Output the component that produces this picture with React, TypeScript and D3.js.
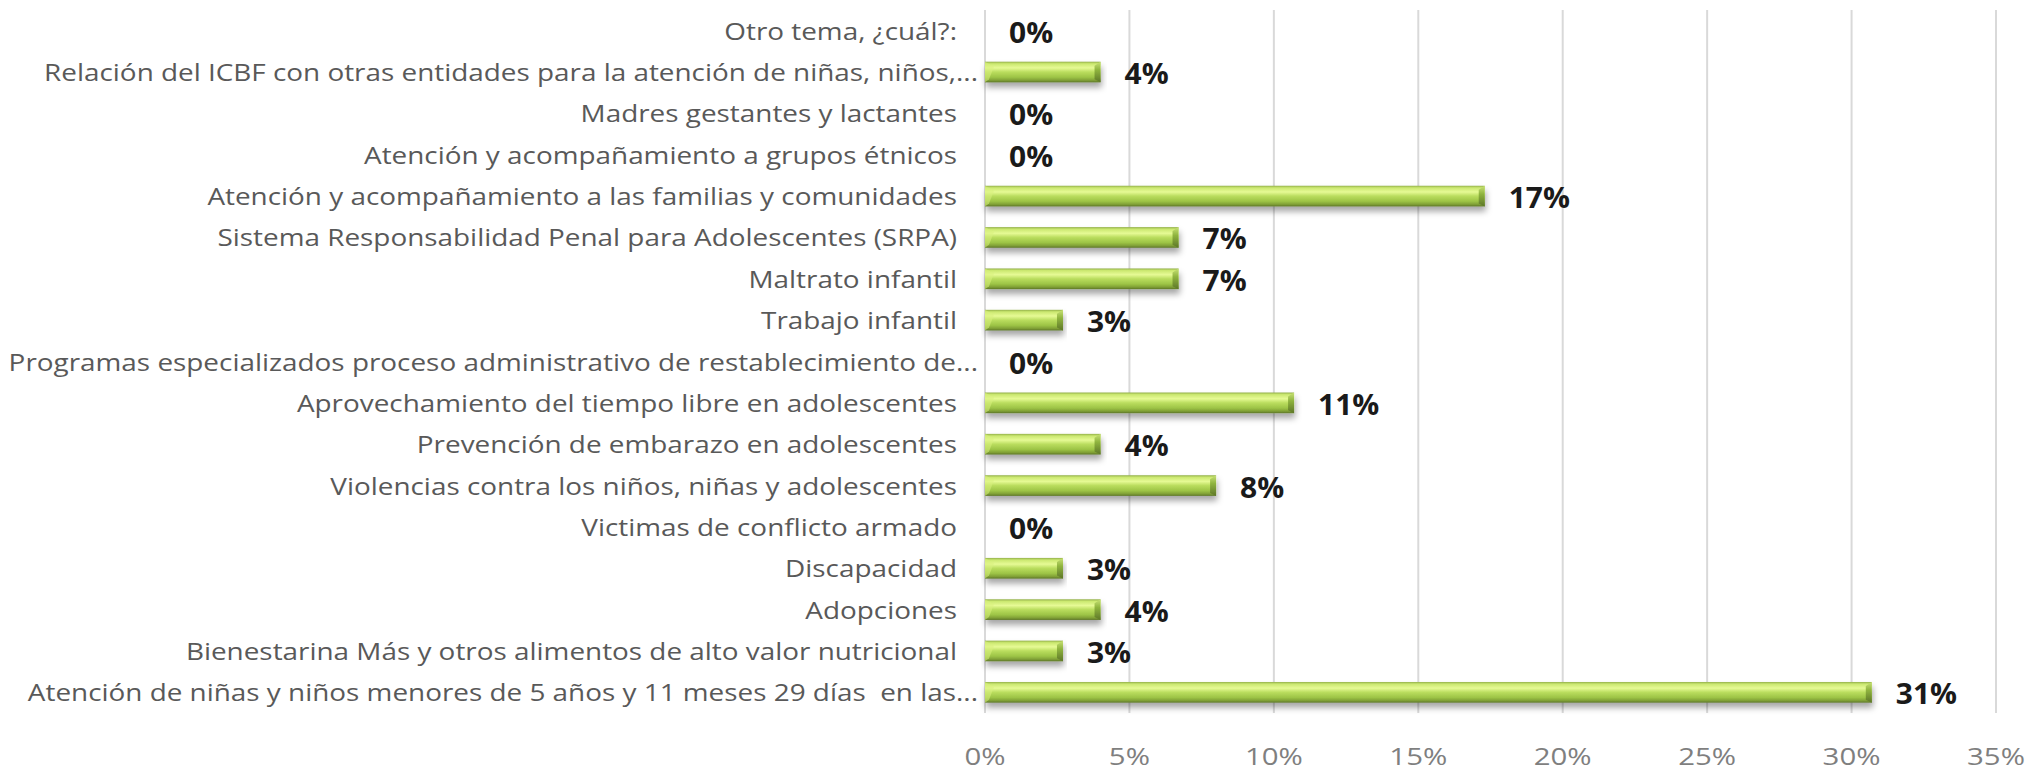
import React from 'react';
import * as d3 from 'd3';

const categories = [
  'Otro tema, ¿cuál?:',
  'Relación del ICBF con otras entidades para la atención de niñas, niños,...',
  'Madres gestantes y lactantes',
  'Atención y acompañamiento a grupos étnicos',
  'Atención y acompañamiento a las familias y comunidades',
  'Sistema Responsabilidad Penal para Adolescentes (SRPA)',
  'Maltrato infantil',
  'Trabajo infantil',
  'Programas especializados proceso administrativo de restablecimiento de...',
  'Aprovechamiento del tiempo libre en adolescentes',
  'Prevención de embarazo en adolescentes',
  'Violencias contra los niños, niñas y adolescentes',
  'Victimas de conflicto armado',
  'Discapacidad',
  'Adopciones',
  'Bienestarina Más y otros alimentos de alto valor nutricional',
  'Atención de niñas y niños menores de 5 años y 11 meses 29 días  en las...',
];

// percentages
const values = [0, 4.0, 0, 0, 17.3, 6.7, 6.7, 2.7, 0, 10.7, 4.0, 8.0, 0, 2.7, 4.0, 2.7, 30.7];

const xTicks = [0, 5, 10, 15, 20, 25, 30, 35];

const W = 2031;
const H = 772;
const M = { left: 985, right: 35, top: 10, bottom: 59 };

const FONT = "'Open Sans', 'Noto Sans', sans-serif";

let ctx: CanvasRenderingContext2D | null = null;
function measure(text: string, font: string): number {
  if (!ctx) ctx = document.createElement('canvas').getContext('2d');
  if (!ctx) return text.length * 10;
  ctx.font = font;
  return ctx.measureText(text).width;
}

const CAT_SIZE = 23;
const CAT_STRETCH = 1.212;
const TICK_SIZE = 23.5;
const TICK_STRETCH = 1.25;
const VAL_SIZE = 28;
const VAL_STRETCH = 1.07;

export default function App() {
  const x = d3.scaleLinear().domain([0, 35]).range([M.left, W - M.right]);
  const y = d3
    .scaleBand<string>()
    .domain(categories)
    .range([M.top, H - M.bottom])
    .paddingInner(0.5)
    .paddingOuter(0.25);
  const bw = y.bandwidth();
  const fmt = (v: number) => d3.format('.0f')(v) + '%';

  return (
    <svg
      width={W}
      height={H}
      style={{ position: 'absolute', left: 0, top: 0, background: '#fff' }}
    >
      <defs>
        <linearGradient id="barGrad" x1="0" y1="0" x2="0" y2="1">
          <stop offset="0" stopColor="#93b04a" />
          <stop offset="0.1" stopColor="#cbe870" />
          <stop offset="0.3" stopColor="#e6fa95" />
          <stop offset="0.5" stopColor="#badd5e" />
          <stop offset="0.75" stopColor="#9dc446" />
          <stop offset="0.9" stopColor="#80a036" />
          <stop offset="1" stopColor="#5d7628" />
        </linearGradient>
        <linearGradient id="capGrad" x1="0" y1="0" x2="0" y2="1">
          <stop offset="0" stopColor="#c9e277" />
          <stop offset="0.4" stopColor="#8fb43e" />
          <stop offset="1" stopColor="#5d7628" />
        </linearGradient>
        <filter id="shadow" x="-5%" y="-50%" width="110%" height="220%">
          <feDropShadow dx="1" dy="5" stdDeviation="3" floodColor="#000" floodOpacity="0.35" />
        </filter>
      </defs>

      {/* gridlines */}
      {xTicks.map((t) => (
        <line
          key={'g' + t}
          x1={x(t)}
          x2={x(t)}
          y1={M.top}
          y2={H - M.bottom}
          stroke="#d9d9d9"
          strokeWidth={2}
        />
      ))}

      {/* bars */}
      {categories.map((c, i) => {
        const v = values[i];
        if (v <= 0) return null;
        const x0 = x(0);
        const x1 = x(v);
        const y0 = y(c)!;
        const y1 = y0 + bw;
        const b = 6;
        return (
          <g key={'b' + i} filter="url(#shadow)">
            <rect x={x0} y={y0} width={x1 - x0} height={bw} fill="url(#barGrad)" />
            <polygon
              points={`${x1 - b},${y0 + 4} ${x1},${y0} ${x1},${y1} ${x1 - b},${y1 - 3}`}
              fill="url(#capGrad)"
            />
            <polygon
              points={`${x0},${y0} ${x0 + 9},${y0 + 5} ${x0 + 4},${y1 - 3} ${x0},${y1}`}
              fill="#d9f07e"
              opacity={0.55}
            />
          </g>
        );
      })}

      {/* value labels */}
      {categories.map((c, i) => {
        const v = values[i];
        const t = fmt(v);
        const font = `bold ${VAL_SIZE}px ${FONT}`;
        const w = measure(t, font) * VAL_STRETCH;
        return (
          <text
            key={'v' + i}
            x={x(v) + 24}
            y={y(c)! + bw / 2 + 1}
            dominantBaseline="central"
            fontFamily={FONT}
            fontWeight="bold"
            fontSize={VAL_SIZE}
            fill="#1a1a1a"
            textLength={w}
            lengthAdjust="spacingAndGlyphs"
          >
            {t}
          </text>
        );
      })}

      {/* category labels */}
      {categories.map((c) => {
        const font = `${CAT_SIZE}px ${FONT}`;
        const w = measure(c, font) * CAT_STRETCH;
        const trunc = c.endsWith('...');
        return (
          <text
            key={'c' + c}
            x={trunc ? x(0) - 7 : x(0) - 28}
            y={y(c)! + bw / 2}
            textAnchor="end"
            dominantBaseline="central"
            fontFamily={FONT}
            fontSize={CAT_SIZE}
            fill="#595959"
            textLength={w}
            lengthAdjust="spacingAndGlyphs"
            style={{ whiteSpace: 'pre' }}
          >
            {c}
          </text>
        );
      })}

      {/* x tick labels */}
      {xTicks.map((t) => {
        const s = t + '%';
        const font = `${TICK_SIZE}px ${FONT}`;
        const w = measure(s, font) * TICK_STRETCH;
        return (
          <text
            key={'t' + t}
            x={x(t)}
            y={765}
            textAnchor="middle"
            fontFamily={FONT}
            fontSize={TICK_SIZE}
            fill="#7f7f7f"
            textLength={w}
            lengthAdjust="spacingAndGlyphs"
          >
            {s}
          </text>
        );
      })}
    </svg>
  );
}
